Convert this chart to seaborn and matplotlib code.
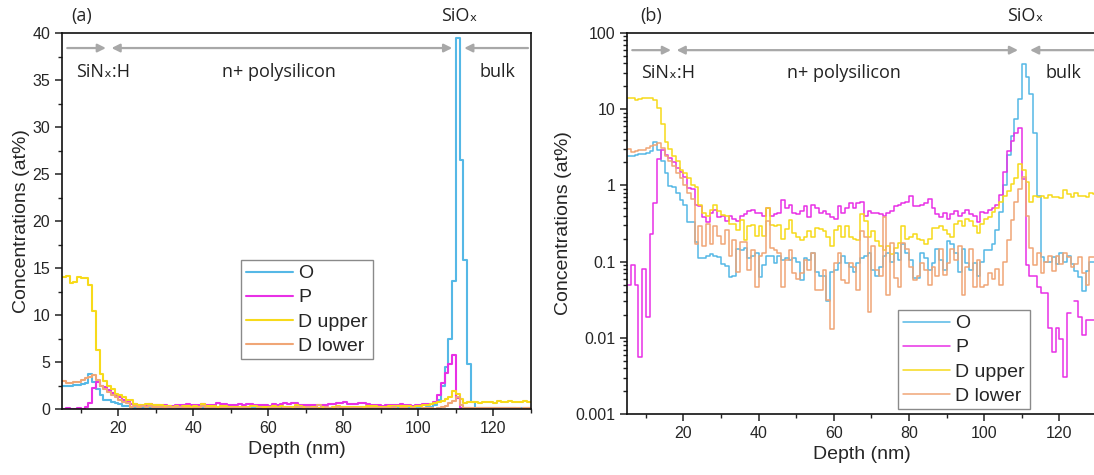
import numpy as np
import pandas as pd
import matplotlib
matplotlib.use("Agg")
import matplotlib.pyplot as plt
from matplotlib.ticker import MultipleLocator, FuncFormatter, LogLocator, NullFormatter
import seaborn as sns

# SIMS depth profile, 1 nm bins starting at each depth value
depth_start = 5
depth_stop = 130

o_conc = [
    2.4, 2.45, 2.5, 2.55, 2.6, 2.65, 2.8, 3.7, 2.9, 2.1,
    1.46, 0.97, 0.95, 0.79, 0.65, 0.56, 0.33, 0.33, 0.18, 0.112,
    0.11, 0.12, 0.125, 0.12, 0.115, 0.093, 0.088, 0.063, 0.065, 0.145,
    0.14, 0.15, 0.112, 0.117, 0.13, 0.062, 0.091, 0.12, 0.12, 0.095,
    0.117, 0.105, 0.11, 0.105, 0.11, 0.10, 0.058, 0.11, 0.105, 0.13,
    0.072, 0.064, 0.064, 0.030, 0.074, 0.078, 0.095, 0.12, 0.095, 0.086,
    0.074, 0.095, 0.11, 0.117, 0.13, 0.078, 0.064, 0.086, 0.117, 0.13,
    0.10, 0.13, 0.105, 0.17, 0.13, 0.105, 0.061, 0.061, 0.13, 0.112,
    0.078, 0.095, 0.145, 0.105, 0.078, 0.185, 0.17, 0.13, 0.074, 0.145,
    0.095, 0.078, 0.095, 0.064, 0.10, 0.14, 0.14, 0.17, 0.26, 0.45,
    1.0, 2.5, 4.5, 7.5, 13.6, 39.5, 26.5, 15.8, 4.8, 0.72,
    0.115, 0.10, 0.10, 0.115, 0.093, 0.13, 0.10, 0.12, 0.093, 0.076,
    0.062, 0.041, 0.076, 0.10, 0.10, 0.10,
]

p_conc = [
    0.05, 0.089, 0.05, 0.0056, 0.079, 0.019, 0.23, 0.59, 2.2, 2.9,
    2.5, 2.3, 2.05, 1.67, 1.5, 1.3, 0.93, 0.9, 0.56, 0.53,
    0.38, 0.33, 0.44, 0.48, 0.38, 0.40, 0.34, 0.40, 0.36, 0.34,
    0.40, 0.42, 0.46, 0.48, 0.44, 0.43, 0.40, 0.50, 0.40, 0.42,
    0.44, 0.64, 0.51, 0.56, 0.44, 0.42, 0.46, 0.53, 0.38, 0.56,
    0.51, 0.44, 0.46, 0.42, 0.38, 0.36, 0.53, 0.44, 0.51, 0.59,
    0.51, 0.59, 0.61, 0.40, 0.46, 0.44, 0.44, 0.42, 0.40, 0.44,
    0.46, 0.53, 0.56, 0.59, 0.61, 0.73, 0.53, 0.53, 0.56, 0.59,
    0.66, 0.51, 0.42, 0.38, 0.44, 0.36, 0.42, 0.46, 0.40, 0.43,
    0.48, 0.42, 0.40, 0.33, 0.45, 0.44, 0.48, 0.50, 0.55, 0.75,
    1.5, 2.8, 3.8, 4.8, 5.7, 1.2, 0.09, 0.064, 0.064, 0.046,
    0.039, 0.039, 0.0135, 0.0066, 0.0135, 0.0097, 0.0031, 0.021, 0.0, 0.030,
    0.019, 0.011, 0.017, 0.017, 0.017, 0.017,
]

d_upper = [
    14.0, 14.1, 13.4, 13.5, 14.0, 13.9, 13.9, 13.2, 10.4, 6.3,
    3.7, 3.0, 2.45, 2.1, 1.6, 1.45, 1.25, 1.0, 0.95, 0.56,
    0.44, 0.40, 0.48, 0.56, 0.46, 0.41, 0.40, 0.31, 0.31, 0.26,
    0.35, 0.19, 0.29, 0.30, 0.22, 0.29, 0.22, 0.50, 0.30, 0.29,
    0.30, 0.20, 0.27, 0.35, 0.24, 0.21, 0.19, 0.21, 0.25, 0.21,
    0.28, 0.27, 0.25, 0.21, 0.16, 0.26, 0.29, 0.21, 0.29, 0.21,
    0.20, 0.19, 0.42, 0.34, 0.21, 0.25, 0.185, 0.16, 0.14, 0.16,
    0.125, 0.15, 0.175, 0.29, 0.20, 0.21, 0.23, 0.20, 0.19, 0.17,
    0.20, 0.28, 0.28, 0.29, 0.26, 0.23, 0.21, 0.31, 0.34, 0.29,
    0.36, 0.34, 0.29, 0.24, 0.31, 0.36, 0.38, 0.45, 0.50, 0.60,
    0.72, 0.85, 1.05, 1.25, 1.9, 1.6, 1.1, 0.6, 0.72, 0.70,
    0.72, 0.68, 0.74, 0.71, 0.70, 0.68, 0.86, 0.76, 0.70, 0.80,
    0.72, 0.72, 0.70, 0.80, 0.76, 0.74,
]

d_lower = [
    3.0, 2.75, 2.8, 2.9, 2.9, 3.1, 3.3, 3.4, 3.6, 3.1,
    2.4, 2.1, 1.8, 1.46, 1.25, 1.0, 0.79, 0.67, 0.17, 0.29,
    0.16, 0.31, 0.17, 0.29, 0.22, 0.17, 0.26, 0.12, 0.19, 0.074,
    0.18, 0.18, 0.078, 0.14, 0.047, 0.117, 0.13, 0.34, 0.15, 0.14,
    0.13, 0.047, 0.105, 0.14, 0.07, 0.06, 0.07, 0.105, 0.078, 0.13,
    0.043, 0.043, 0.078, 0.031, 0.013, 0.095, 0.13, 0.058, 0.052, 0.095,
    0.086, 0.043, 0.25, 0.21, 0.022, 0.16, 0.078, 0.064, 0.38, 0.037,
    0.175, 0.061, 0.047, 0.175, 0.145, 0.086, 0.058, 0.064, 0.095, 0.078,
    0.05, 0.086, 0.064, 0.145, 0.067, 0.095, 0.145, 0.105, 0.16, 0.037,
    0.086, 0.145, 0.047, 0.105, 0.047, 0.05, 0.07, 0.06, 0.08, 0.05,
    0.10, 0.19, 0.35, 0.6, 0.9, 1.3, 0.4, 0.15, 0.09, 0.13,
    0.07, 0.10, 0.12, 0.076, 0.12, 0.093, 0.13, 0.115, 0.085, 0.093,
    0.115, 0.07, 0.05, 0.115, 0.115, 0.10,
]

species = ["O", "P", "D upper", "D lower"]
palette = {"O": "#55B8E6", "P": "#E830E6", "D upper": "#F7DA1A", "D lower": "#F0A676"}

depth = np.arange(depth_start, depth_stop + 1)
profiles = [o_conc, p_conc, d_upper, d_lower]
df = pd.DataFrame({
    "depth": np.tile(depth, len(species)),
    "conc": np.concatenate([np.asarray(v, dtype=float) for v in profiles]),
    "species": np.repeat(species, len(depth)),
})

sns.set_theme(style="ticks")
plt.rcParams["font.family"] = ["Liberation Sans", "DejaVu Sans"]
plt.rcParams["axes.linewidth"] = 1.2
plt.rcParams["xtick.major.width"] = 1.1
plt.rcParams["ytick.major.width"] = 1.1
plt.rcParams["xtick.minor.width"] = 1.0
plt.rcParams["ytick.minor.width"] = 1.0

fig = plt.figure(figsize=(10.94, 4.75), dpi=100)
W, H = 1094, 475
ax_a = fig.add_axes([62 / W, 66 / H, 469 / W, 376 / H])
ax_b = fig.add_axes([627 / W, 61 / H, 470 / W, 381 / H])

GRAY = "#A8A8A8"
ANN_FONT = ["Open Sans", "DejaVu Sans"]


def draw_profiles(ax, lw):
    sns.lineplot(data=df, x="depth", y="conc", hue="species", hue_order=species,
                 palette=palette, estimator=None, sort=False,
                 drawstyle="steps-post", linewidth=lw, ax=ax, legend=True)


def layer_labels(ax, y_arrow, y_text):
    tr = ax.get_xaxis_transform()
    ap = dict(color=GRAY, lw=1.6, mutation_scale=12, shrinkA=0, shrinkB=0)
    ax.annotate("", xy=(16.7, y_arrow), xytext=(6.4, y_arrow), xycoords=tr,
                textcoords=tr, arrowprops=dict(arrowstyle="-|>", **ap))
    ax.annotate("", xy=(109.0, y_arrow), xytext=(18.2, y_arrow), xycoords=tr,
                textcoords=tr, arrowprops=dict(arrowstyle="<|-|>", **ap))
    ax.annotate("", xy=(112.2, y_arrow), xytext=(129.2, y_arrow), xycoords=tr,
                textcoords=tr, arrowprops=dict(arrowstyle="-|>", **ap))
    kw = dict(transform=tr, ha="center", va="center", fontsize=13,
              family=ANN_FONT, color="#222222")
    ax.text(16.0, y_text, "SiNₓ:H", **kw)
    ax.text(62.8, y_text, "n+ polysilicon", **kw)
    ax.text(121.0, y_text, "bulk", **kw)
    ax.text(111.0, 1.045, "SiOₓ", **kw, clip_on=False)


def style_axis(ax):
    ax.set_xlim(depth_start, depth_stop)
    ax.xaxis.set_major_locator(MultipleLocator(20))
    ax.xaxis.set_minor_locator(MultipleLocator(10))
    ax.tick_params(which="major", length=5, labelsize=11.5, color="#222222")
    ax.tick_params(which="minor", length=3, color="#222222")
    ax.set_xlabel("Depth (nm)", fontsize=14, labelpad=4)
    ax.set_ylabel("Concentrations (at%)", fontsize=14, labelpad=2)
    for s in ax.spines.values():
        s.set_color("#111111")


def legend(ax, x_px, y_px):
    handles, labels = ax.get_legend_handles_labels()
    ax.legend(handles, labels, loc="upper left",
              bbox_to_anchor=(x_px / W, 1 - y_px / H), bbox_transform=fig.transFigure,
              fontsize=14, frameon=True, fancybox=False, framealpha=1,
              edgecolor="#8A8A8A", handlelength=2.4, handletextpad=0.3,
              labelspacing=0.33, borderpad=0.25, borderaxespad=0)
    ax.get_legend().get_frame().set_linewidth(1.0)


# (a) linear scale
draw_profiles(ax_a, 1.5)
ax_a.set_ylim(0, 40)
ax_a.yaxis.set_major_locator(MultipleLocator(5))
ax_a.yaxis.set_minor_locator(MultipleLocator(2.5))
style_axis(ax_a)
legend(ax_a, 241, 260)
layer_labels(ax_a, 0.96, 0.896)
ax_a.text(0.02, 1.045, "(a)", transform=ax_a.transAxes, fontsize=13,
          family=ANN_FONT, va="center", ha="left")

# (b) logarithmic scale
draw_profiles(ax_b, 1.1)
ax_b.set_yscale("log", nonpositive="mask")
ax_b.set_ylim(0.001, 100)
ax_b.yaxis.set_major_locator(LogLocator(base=10, numticks=10))
ax_b.yaxis.set_minor_locator(LogLocator(base=10, subs=np.arange(2, 10), numticks=20))
ax_b.yaxis.set_minor_formatter(NullFormatter())
ax_b.yaxis.set_major_formatter(FuncFormatter(lambda v, _: f"{v:g}"))
style_axis(ax_b)
legend(ax_b, 898, 310)
layer_labels(ax_b, 0.955, 0.895)
ax_b.text(0.028, 1.045, "(b)", transform=ax_b.transAxes, fontsize=13,
          family=ANN_FONT, va="center", ha="left")

fig.savefig("out.png", dpi=100)
